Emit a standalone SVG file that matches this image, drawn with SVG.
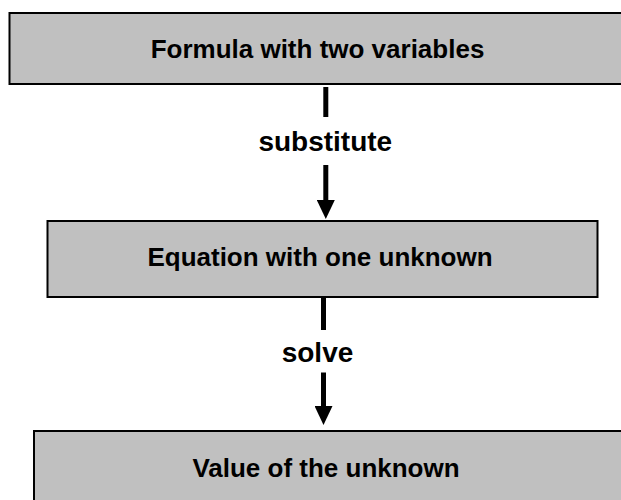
<svg xmlns="http://www.w3.org/2000/svg" width="621" height="500" viewBox="0 0 621 500">
<style>
.box{fill:#c0c0c0;stroke:#000;stroke-width:2}
.t{font-family:"Liberation Sans",Arial,sans-serif;font-weight:bold;font-size:26px;fill:#000;text-anchor:middle}
.lbl{font-size:28px}
.ln{stroke:#000;stroke-width:5;fill:none}
</style>
<defs>
<marker id="ah" markerUnits="userSpaceOnUse" markerWidth="19" markerHeight="18" refX="0" refY="9" orient="auto" viewBox="0 0 19 18">
<path d="M0,0 L19,9 L0,18 Z" fill="#000"/>
</marker>
</defs>
<g id="connectors">
<line class="ln" x1="325.8" y1="87" x2="325.8" y2="117"/>
<line class="ln" x1="325.8" y1="165" x2="325.8" y2="200" marker-end="url(#ah)"/>
<line class="ln" x1="323.5" y1="297" x2="323.5" y2="330"/>
<line class="ln" x1="323.5" y1="372.5" x2="323.5" y2="406" marker-end="url(#ah)"/>
<text class="t lbl" x="325.3" y="151">substitute</text>
<text class="t lbl" x="317.5" y="361.7">solve</text>
</g>
<g id="n1">
<rect class="box" x="9.5" y="13" width="630" height="71"/>
<text class="t" x="317.5" y="58">Formula with two variables</text>
</g>
<g id="n2">
<rect class="box" x="47.5" y="221" width="550" height="76"/>
<text class="t" x="320" y="266">Equation with one unknown</text>
</g>
<g id="n3">
<rect class="box" x="34" y="431" width="600" height="90"/>
<text class="t" x="326" y="477">Value of the unknown</text>
</g>
</svg>
